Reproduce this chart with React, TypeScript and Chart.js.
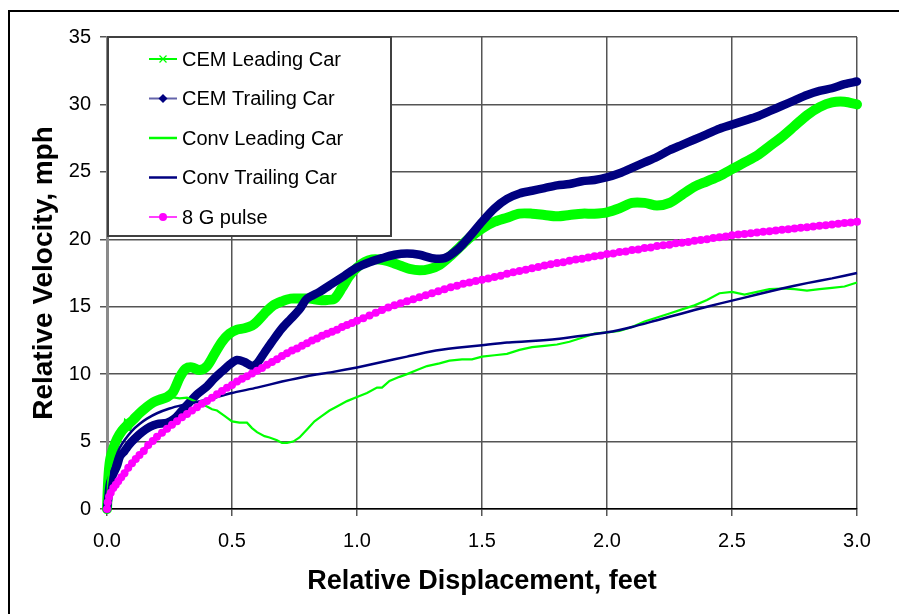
import React, { useEffect, useRef } from "react";
import { Chart, registerables } from "chart.js";

Chart.register(...registerables);

// ---------- DATA ----------
const xTickLabels = ["0.0", "0.5", "1.0", "1.5", "2.0", "2.5", "3.0"];
const yTickLabels = ["0", "5", "10", "15", "20", "25", "30", "35"];

const seriesNames = ["CEM Leading Car", "CEM Trailing Car", "Conv Leading Car", "Conv Trailing Car", "8 G pulse"];

const cemLeadX = [0, 0.005, 0.012, 0.025, 0.04, 0.06, 0.08, 0.104, 0.13, 0.155, 0.184, 0.21, 0.24, 0.265, 0.292, 0.315, 0.34, 0.37, 0.4, 0.43, 0.46, 0.49, 0.52, 0.55, 0.58, 0.6, 0.63, 0.665, 0.7, 0.735, 0.77, 0.81, 0.85, 0.88, 0.91, 0.94, 0.97, 1.0, 1.03, 1.06, 1.09, 1.12, 1.15, 1.18, 1.21, 1.25, 1.29, 1.33, 1.37, 1.41, 1.45, 1.5, 1.55, 1.6, 1.65, 1.7, 1.75, 1.8, 1.85, 1.9, 1.95, 2.0, 2.05, 2.1, 2.15, 2.2, 2.25, 2.3, 2.35, 2.4, 2.45, 2.5, 2.55, 2.6, 2.65, 2.7, 2.75, 2.8, 2.85, 2.9, 2.95, 3.0];
const cemLeadY = [0, 2.2, 3.6, 4.5, 5.2, 5.8, 6.2, 6.6, 7.1, 7.5, 7.9, 8.1, 8.3, 8.7, 9.8, 10.4, 10.5, 10.3, 10.6, 11.5, 12.4, 13.0, 13.3, 13.4, 13.6, 13.9, 14.5, 15.1, 15.4, 15.6, 15.6, 15.6, 15.5, 15.5, 15.6, 16.4, 17.3, 17.9, 18.3, 18.5, 18.5, 18.4, 18.2, 18.0, 17.8, 17.7, 17.8, 18.1, 18.7, 19.4, 20.1, 20.8, 21.3, 21.6, 21.9, 21.9, 21.8, 21.7, 21.8, 21.9, 21.9, 22.0, 22.3, 22.7, 22.7, 22.5, 22.7, 23.3, 23.9, 24.3, 24.7, 25.2, 25.7, 26.2, 26.9, 27.6, 28.4, 29.2, 29.8, 30.15, 30.2, 30.0];

const cemTrailX = [0, 0.005, 0.012, 0.025, 0.04, 0.052, 0.07, 0.09, 0.11, 0.14, 0.172, 0.2, 0.24, 0.27, 0.3, 0.33, 0.36, 0.4, 0.43, 0.46, 0.49, 0.52, 0.55, 0.58, 0.6, 0.63, 0.66, 0.7, 0.735, 0.77, 0.8, 0.85, 0.9, 0.95, 1.0, 1.05, 1.1, 1.15, 1.2, 1.25, 1.3, 1.35, 1.4, 1.45, 1.5, 1.55, 1.6, 1.65, 1.7, 1.75, 1.8, 1.85, 1.9, 1.95, 2.0, 2.05, 2.1, 2.15, 2.2, 2.25, 2.3, 2.35, 2.4, 2.45, 2.5, 2.55, 2.6, 2.65, 2.7, 2.75, 2.8, 2.85, 2.9, 2.95, 3.0];
const cemTrailY = [0, 0.8, 1.9, 2.6, 3.2, 3.9, 4.3, 4.8, 5.2, 5.7, 6.1, 6.3, 6.4, 6.7, 7.3, 7.9, 8.5, 9.1, 9.7, 10.2, 10.7, 11.05, 10.9, 10.6, 10.8, 11.6, 12.4, 13.4, 14.1, 14.8, 15.6, 16.1, 16.7, 17.3, 17.9, 18.3, 18.6, 18.85, 18.95, 18.85, 18.6, 18.6, 19.2, 20.2, 21.3, 22.3, 23.0, 23.4, 23.6, 23.8, 24.0, 24.1, 24.3, 24.4, 24.6, 24.9, 25.3, 25.7, 26.1, 26.6, 27.0, 27.4, 27.8, 28.2, 28.5, 28.8, 29.1, 29.5, 29.9, 30.3, 30.7, 31.0, 31.2, 31.5, 31.7];

const convLeadX = [0, 0.004, 0.01, 0.018, 0.024, 0.035, 0.045, 0.055, 0.065, 0.072, 0.078, 0.085, 0.092, 0.1, 0.115, 0.132, 0.15, 0.17, 0.2, 0.23, 0.26, 0.29, 0.32, 0.35, 0.375, 0.4, 0.42, 0.44, 0.47, 0.5, 0.53, 0.56, 0.58, 0.6, 0.63, 0.65, 0.68, 0.7, 0.72, 0.745, 0.77, 0.8, 0.83, 0.86, 0.89, 0.92, 0.96, 1.0, 1.04, 1.08, 1.1, 1.13, 1.17, 1.2, 1.24, 1.28, 1.33, 1.37, 1.42, 1.46, 1.5, 1.55, 1.6, 1.65, 1.7, 1.75, 1.8, 1.85, 1.9, 1.95, 2.0, 2.05, 2.1, 2.15, 2.2, 2.25, 2.3, 2.35, 2.4, 2.45, 2.5, 2.55, 2.6, 2.65, 2.7, 2.75, 2.8, 2.85, 2.9, 2.95, 3.0];
const convLeadY = [0, 1.9, 3.2, 4.0, 4.4, 4.8, 5.0, 5.3, 5.6, 6.6, 6.5, 5.9, 5.85, 6.2, 6.7, 7.1, 7.5, 7.9, 8.3, 8.4, 8.3, 8.2, 8.25, 8.0, 7.8, 7.6, 7.4, 7.3, 6.9, 6.5, 6.4, 6.4, 6.0, 5.7, 5.4, 5.3, 5.1, 4.9, 4.9, 5.0, 5.3, 5.9, 6.5, 6.9, 7.3, 7.6, 8.0, 8.3, 8.6, 9.0, 9.0, 9.5, 9.8, 10.0, 10.3, 10.6, 10.8, 11.0, 11.1, 11.1, 11.3, 11.4, 11.5, 11.8, 12.0, 12.1, 12.2, 12.4, 12.7, 13.0, 13.1, 13.2, 13.5, 13.9, 14.2, 14.5, 14.8, 15.1, 15.5, 16.0, 16.1, 15.9, 16.1, 16.3, 16.35, 16.3, 16.2, 16.3, 16.4, 16.5, 16.8];

const convTrailX = [0, 0.005, 0.01, 0.02, 0.035, 0.05, 0.07, 0.1, 0.13, 0.16, 0.2, 0.25, 0.3, 0.35, 0.4, 0.45, 0.5, 0.6, 0.7, 0.8, 0.9, 1.0, 1.1, 1.2, 1.3, 1.4, 1.5, 1.6, 1.7, 1.8, 1.9, 2.0, 2.1, 2.2, 2.3, 2.4, 2.5, 2.6, 2.7, 2.8, 2.9, 3.0];
const convTrailY = [0, 1.0, 1.8, 2.8, 3.8, 4.5, 5.1, 5.8, 6.3, 6.7, 7.1, 7.45, 7.7, 7.9, 8.1, 8.35, 8.6, 9.0, 9.45, 9.85, 10.15, 10.5, 10.9, 11.3, 11.7, 11.95, 12.15, 12.35, 12.45, 12.6, 12.85, 13.1, 13.5, 14.0, 14.5, 15.0, 15.45, 15.9, 16.35, 16.75, 17.1, 17.5];

const pulseX = [0, 0.003, 0.008, 0.015, 0.025, 0.035, 0.045, 0.057, 0.07, 0.085, 0.1, 0.115, 0.13, 0.147, 0.165, 0.183, 0.2, 0.22, 0.24, 0.26, 0.28, 0.3, 0.32, 0.34, 0.36, 0.38, 0.4, 0.42, 0.44, 0.46, 0.48, 0.5, 0.52, 0.54, 0.56, 0.58, 0.6, 0.62, 0.64, 0.66, 0.68, 0.7, 0.72, 0.74, 0.76, 0.78, 0.8, 0.82, 0.84, 0.86, 0.88, 0.9, 0.92, 0.94, 0.96, 0.98, 1.0, 1.025, 1.05, 1.075, 1.1, 1.125, 1.15, 1.175, 1.2, 1.225, 1.25, 1.275, 1.3, 1.325, 1.35, 1.375, 1.4, 1.425, 1.45, 1.475, 1.5, 1.525, 1.55, 1.575, 1.6, 1.625, 1.65, 1.675, 1.7, 1.725, 1.75, 1.775, 1.8, 1.825, 1.85, 1.875, 1.9, 1.925, 1.95, 1.975, 2.0, 2.025, 2.05, 2.075, 2.1, 2.125, 2.15, 2.175, 2.2, 2.225, 2.25, 2.275, 2.3, 2.325, 2.35, 2.375, 2.4, 2.425, 2.45, 2.475, 2.5, 2.525, 2.55, 2.575, 2.6, 2.625, 2.65, 2.675, 2.7, 2.725, 2.75, 2.775, 2.8, 2.825, 2.85, 2.875, 2.9, 2.925, 2.95, 2.975, 3.0];
const pulseY = [0, 0.5, 0.9, 1.2, 1.55, 1.8, 2.05, 2.35, 2.65, 3.05, 3.4, 3.7, 4.0, 4.3, 4.75, 5.05, 5.35, 5.65, 5.95, 6.25, 6.5, 6.8, 7.05, 7.3, 7.55, 7.8, 8.0, 8.25, 8.5, 8.75, 9.0, 9.2, 9.45, 9.65, 9.85, 10.05, 10.25, 10.45, 10.7, 10.9, 11.1, 11.35, 11.55, 11.75, 11.9, 12.1, 12.3, 12.5, 12.65, 12.85, 13.0, 13.15, 13.3, 13.5, 13.65, 13.8, 13.95, 14.15, 14.35, 14.55, 14.75, 14.95, 15.1, 15.25, 15.4, 15.55, 15.7, 15.85, 16.0, 16.15, 16.3, 16.45, 16.55, 16.7, 16.8, 16.9, 17.0, 17.1, 17.2, 17.3, 17.45, 17.55, 17.65, 17.75, 17.85, 17.95, 18.05, 18.15, 18.25, 18.3, 18.4, 18.5, 18.55, 18.65, 18.75, 18.8, 18.9, 18.95, 19.05, 19.1, 19.2, 19.25, 19.35, 19.4, 19.5, 19.55, 19.6, 19.7, 19.75, 19.8, 19.9, 19.95, 20.0, 20.1, 20.15, 20.2, 20.3, 20.35, 20.4, 20.45, 20.5, 20.55, 20.6, 20.65, 20.7, 20.75, 20.8, 20.85, 20.9, 20.95, 21.0, 21.05, 21.1, 21.15, 21.2, 21.25, 21.3];

// ---------- helpers ----------
const zip = (xs: number[], ys: number[]) => xs.map((x, i) => ({ x, y: ys[i] }));

const FONT = "'Liberation Sans', Arial, Helvetica, sans-serif";
const GREEN = "#00ff00";
const NAVY = "#000080";
const MAGENTA = "#ff00ff";

type LegendStyle = { line: string; lineWidth: number; marker: "cross" | "diamond" | "circle" | null; markerColor: string };
const legendStyles: LegendStyle[] = [
  { line: GREEN, lineWidth: 2, marker: "cross", markerColor: GREEN },
  { line: "#6464aa", lineWidth: 2, marker: "diamond", markerColor: NAVY },
  { line: GREEN, lineWidth: 2.5, marker: null, markerColor: GREEN },
  { line: NAVY, lineWidth: 2.5, marker: null, markerColor: NAVY },
  { line: MAGENTA, lineWidth: 1.5, marker: "circle", markerColor: MAGENTA },
];

const framePlugin = {
  id: "outerFrame",
  beforeDraw(chart: any) {
    const { ctx, width, height } = chart;
    ctx.save();
    ctx.fillStyle = "#ffffff";
    ctx.fillRect(0, 0, width, height);
    ctx.fillStyle = "#000000";
    ctx.fillRect(8, 10, width - 8, 2);
    ctx.fillRect(8, 10, 2, height - 10);
    ctx.restore();
  },
};

const boxLegendPlugin = {
  id: "boxLegend",
  afterDatasetsDraw(chart: any) {
    const { ctx, chartArea } = chart;
    const x0 = chartArea.left + 1;
    const y0 = chartArea.top;
    const w = 283;
    const h = 199;
    ctx.save();
    ctx.fillStyle = "#ffffff";
    ctx.fillRect(x0, y0, w, h);
    ctx.strokeStyle = "#404040";
    ctx.lineWidth = 2;
    ctx.strokeRect(x0, y0, w, h);
    ctx.font = `20px ${FONT}`;
    ctx.textBaseline = "middle";
    ctx.textAlign = "left";
    seriesNames.forEach((name, i) => {
      const st = legendStyles[i];
      const cy = y0 + 22 + i * 39.5;
      const lx1 = x0 + 41;
      const lx2 = x0 + 69;
      const mx = (lx1 + lx2) / 2;
      ctx.strokeStyle = st.line;
      ctx.lineWidth = st.lineWidth;
      ctx.beginPath();
      ctx.moveTo(lx1, cy);
      ctx.lineTo(lx2, cy);
      ctx.stroke();
      if (st.marker === "cross") {
        ctx.strokeStyle = st.markerColor;
        ctx.lineWidth = 1.2;
        ctx.beginPath();
        ctx.moveTo(mx - 3.5, cy - 3.5);
        ctx.lineTo(mx + 3.5, cy + 3.5);
        ctx.moveTo(mx - 3.5, cy + 3.5);
        ctx.lineTo(mx + 3.5, cy - 3.5);
        ctx.stroke();
      } else if (st.marker === "diamond") {
        ctx.fillStyle = st.markerColor;
        ctx.beginPath();
        ctx.moveTo(mx, cy - 4.5);
        ctx.lineTo(mx + 4.5, cy);
        ctx.lineTo(mx, cy + 4.5);
        ctx.lineTo(mx - 4.5, cy);
        ctx.closePath();
        ctx.fill();
      } else if (st.marker === "circle") {
        ctx.fillStyle = st.markerColor;
        ctx.beginPath();
        ctx.arc(mx, cy, 4, 0, Math.PI * 2);
        ctx.fill();
      }
      ctx.fillStyle = "#000000";
      ctx.fillText(name, x0 + 74, cy + 1);
    });
    ctx.restore();
  },
};

export default function App() {
  const canvasRef = useRef<HTMLCanvasElement | null>(null);

  useEffect(() => {
    document.body.style.margin = "0";
    const canvas = canvasRef.current;
    if (!canvas) return;

    const chart = new Chart(canvas, {
      type: "line",
      data: {
        datasets: [
          {
            label: seriesNames[0],
            data: zip(cemLeadX, cemLeadY),
            borderColor: GREEN,
            backgroundColor: GREEN,
            borderWidth: 10,
            pointRadius: 0,
            tension: 0.3,
            borderCapStyle: "round",
            borderJoinStyle: "round",
            order: 5,
            clip: false,
          },
          {
            label: seriesNames[1],
            data: zip(cemTrailX, cemTrailY),
            borderColor: NAVY,
            backgroundColor: NAVY,
            borderWidth: 8.5,
            pointRadius: 0,
            tension: 0.3,
            borderCapStyle: "round",
            borderJoinStyle: "round",
            order: 4,
            clip: false,
          },
          {
            label: seriesNames[2],
            data: zip(convLeadX, convLeadY),
            borderColor: GREEN,
            backgroundColor: GREEN,
            borderWidth: 2.2,
            pointRadius: 0,
            tension: 0,
            order: 3,
            clip: false,
          },
          {
            label: seriesNames[3],
            data: zip(convTrailX, convTrailY),
            borderColor: NAVY,
            backgroundColor: NAVY,
            borderWidth: 2.5,
            pointRadius: 0,
            tension: 0.2,
            order: 2,
            clip: false,
          },
          {
            label: seriesNames[4],
            data: zip(pulseX, pulseY),
            borderColor: MAGENTA,
            backgroundColor: MAGENTA,
            borderWidth: 5,
            pointRadius: 4,
            pointBorderWidth: 0,
            pointBackgroundColor: MAGENTA,
            pointStyle: "circle",
            tension: 0,
            borderJoinStyle: "round",
            order: 1,
            clip: false,
          },
        ] as any,
      },
      options: {
        responsive: false,
        animation: false,
        devicePixelRatio: 1,
        layout: { padding: { left: 0, top: 37, right: 42, bottom: 0 } },
        plugins: {
          legend: { display: false },
          tooltip: { enabled: false },
        },
        scales: {
          x: {
            type: "linear",
            min: 0,
            max: 3,
            afterFit: (scale: any) => {
              scale.height = 105;
            },
            afterBuildTicks: (scale: any) => {
              scale.ticks = xTickLabels.map((l) => ({ value: parseFloat(l) }));
            },
            ticks: {
              callback: (v: any) => xTickLabels.find((l) => parseFloat(l) === Number(v)) ?? "",
              color: "#000",
              font: { family: FONT, size: 20 },
              padding: 13,
              maxRotation: 0,
            },
            grid: { color: "#555555", lineWidth: 1.5, tickLength: 7, tickColor: "#555555" },
            border: { display: true, color: "#000000", width: 1.5 },
            title: {
              display: true,
              text: "Relative Displacement, feet",
              color: "#000",
              font: { family: FONT, size: 27, weight: "bold" },
              padding: { top: 0, bottom: 16 },
            },
          },
          y: {
            type: "linear",
            min: 0,
            max: 35,
            afterFit: (scale: any) => {
              scale.width = 107;
            },
            afterBuildTicks: (scale: any) => {
              scale.ticks = yTickLabels.map((l) => ({ value: parseFloat(l) }));
            },
            ticks: {
              callback: (v: any) => yTickLabels.find((l) => parseFloat(l) === Number(v)) ?? "",
              color: "#000",
              font: { family: FONT, size: 20 },
              padding: 9,
            },
            grid: { color: "#555555", lineWidth: 1.5, tickLength: 7, tickColor: "#555555" },
            border: { display: true, color: "#8a8a8a", width: 3 },
            title: {
              display: true,
              text: "Relative Velocity, mph",
              color: "#000",
              font: { family: FONT, size: 28, weight: "bold" },
              padding: { top: 27, bottom: 0 },
            },
          },
        },
      },
      plugins: [framePlugin, boxLegendPlugin],
    } as any);

    return () => {
      chart.destroy();
    };
  }, []);

  return (
    <div style={{ width: 899, height: 614, position: "relative", overflow: "hidden" }}>
      <canvas ref={canvasRef} width={899} height={614} style={{ display: "block", width: 899, height: 614 }} />
    </div>
  );
}
